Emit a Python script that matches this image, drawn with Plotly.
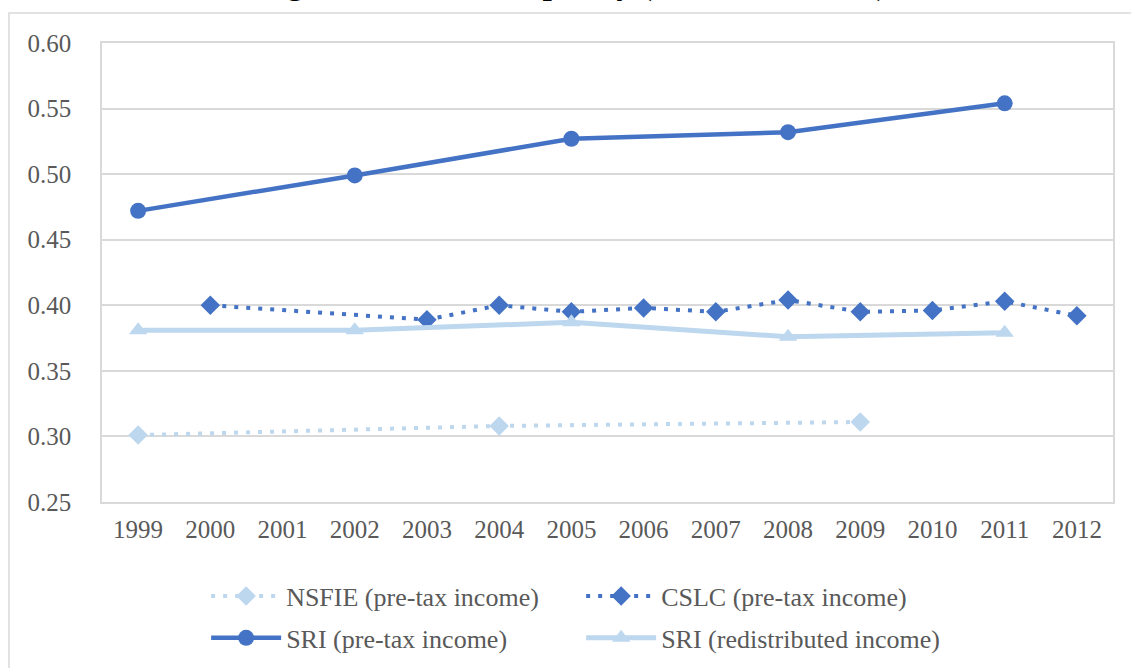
import plotly.graph_objects as go

# Survey years on the category axis
years = [str(y) for y in range(1999, 2013)]

# Gini coefficients by survey and income concept
nsfie_years = ["1999", "2004", "2009"]
nsfie_pretax = [0.301, 0.308, 0.311]

cslc_years = ["2000", "2003", "2004", "2005", "2006", "2007", "2008", "2009", "2010", "2011", "2012"]
cslc_pretax = [0.400, 0.389, 0.400, 0.395, 0.398, 0.395, 0.404, 0.395, 0.396, 0.403, 0.392]

sri_years = ["1999", "2002", "2005", "2008", "2011"]
sri_pretax = [0.472, 0.499, 0.527, 0.532, 0.554]
sri_redistributed = [0.381, 0.381, 0.387, 0.376, 0.379]

y_ticks = [0.25, 0.30, 0.35, 0.40, 0.45, 0.50, 0.55, 0.60]

DARK = "#4472C4"
LIGHT = "#BDD7EE"
GRID = "#D9D9D9"
TEXT = "#595959"
SERIF = "Liberation Serif, Times New Roman, serif"

fig = go.Figure()

fig.add_trace(go.Scatter(
    x=nsfie_years, y=nsfie_pretax, name="NSFIE (pre-tax income)",
    mode="lines+markers", legend="legend",
    line=dict(color=LIGHT, width=4, dash="4px,8px"),
    marker=dict(symbol="diamond", size=15, color=LIGHT),
))
fig.add_trace(go.Scatter(
    x=cslc_years, y=cslc_pretax, name="CSLC (pre-tax income)",
    mode="lines+markers", legend="legend",
    line=dict(color=DARK, width=4, dash="4px,8px"),
    marker=dict(symbol="diamond", size=15, color=DARK),
))
fig.add_trace(go.Scatter(
    x=sri_years, y=sri_pretax, name="SRI (pre-tax income)",
    mode="lines+markers", legend="legend2",
    line=dict(color=DARK, width=4.5),
    marker=dict(symbol="circle", size=16, color=DARK),
))
fig.add_trace(go.Scatter(
    x=sri_years, y=sri_redistributed, name="SRI (redistributed income)",
    mode="lines+markers", legend="legend2",
    line=dict(color=LIGHT, width=5),
    marker=dict(symbol="triangle-up", size=16, color=LIGHT),
))

legend_style = dict(
    orientation="h",
    x=0.103, xanchor="left", yanchor="top",
    entrywidth=290,
    itemwidth=70,
    font=dict(family=SERIF, size=26, color=TEXT),
    bgcolor="rgba(0,0,0,0)",
)

fig.update_layout(
    width=1131, height=668,
    margin=dict(l=102, r=18, t=43, b=166, autoexpand=False),
    paper_bgcolor="white", plot_bgcolor="white",
    font=dict(family=SERIF, size=25, color=TEXT),
    showlegend=True,
    legend=dict(legend_style, y=-0.154),
    legend2=dict(legend_style, y=-0.245),
    xaxis=dict(
        type="category", categoryorder="array", categoryarray=years,
        range=[-0.5, len(years) - 0.5],
        showgrid=False, showline=True, mirror=True,
        linecolor=GRID, linewidth=1.5,
        ticks="", ticklabelstandoff=4,
        tickfont=dict(family=SERIF, size=25, color=TEXT),
    ),
    yaxis=dict(
        range=[0.25, 0.60], tickvals=y_ticks, tickformat=".2f",
        showgrid=True, gridcolor=GRID, gridwidth=1.5,
        showline=True, mirror=True, linecolor=GRID, linewidth=1.5,
        zeroline=False, ticks="", ticklabelstandoff=24,
        tickfont=dict(family=SERIF, size=25, color=TEXT),
    ),
    shapes=[dict(
        type="rect", xref="paper", yref="paper", layer="below",
        x0=-0.092, x1=1.05, y0=-0.5, y1=1.0654,
        line=dict(color=GRID, width=1.5), fillcolor="rgba(0,0,0,0)",
    )],
    annotations=[dict(
        text="<b>Changes in Income Inequality (Gini Coefficient)</b>",
        xref="paper", yref="paper", x=0.1048, y=1.0839,
        xanchor="left", yanchor="bottom", showarrow=False,
        font=dict(family=SERIF, size=33, color="black"),
    )],
)

fig.write_html("out.html")
